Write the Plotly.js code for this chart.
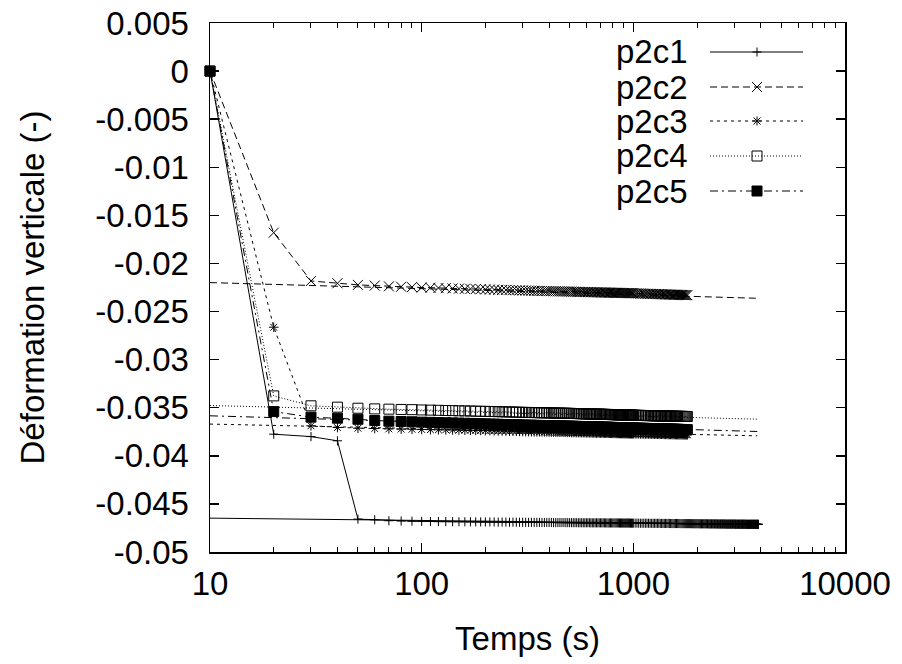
<!DOCTYPE html>
<html>
<head>
<meta charset="utf-8">
<script src="https://cdn.plot.ly/plotly-3.0.1.min.js"></script>
<style>html,body{margin:0;padding:0;background:#fff;}</style>
</head>
<body>
<div id="chart" style="width:902px;height:664px;"></div>
<script>
// ---------- data ----------
// time grid of the records p2c2..p2c5 (s)
const temps = [
  10,20,30,40,50,60,70,80,90,100,
  110,120,130,140,150,160,170,180,190,200,
  210,220,230,240,250,260,270,280,290,300,
  310,320,330,340,350,360,370,380,390,400,
  410,420,430,440,450,460,470,480,490,500,
  510,520,530,540,550,560,570,580,590,600,
  610,620,630,640,650,660,670,680,690,700,
  710,720,730,740,750,760,770,780,790,800,
  810,820,830,840,850,860,870,880,890,900,
  910,920,930,940,950,960,970,980,990,1000,
  1020,1040,1060,1080,1100,1120,1140,1160,1180,1200,
  1220,1240,1260,1280,1300,1320,1340,1360,1380,1400,
  1420,1440,1460,1480,1500,1520,1540,1560,1580,1600,
  1620,1640,1660,1680,1700,1720,1740,1760,1780,1800];
// extra times recorded only for p2c1 (s)
const tempsFin = [
  1820,1840,1860,1880,1900,1920,1940,1960,1980,2000,
  2020,2040,2060,2080,2100,2120,2140,2160,2180,2200,
  2220,2240,2260,2280,2300,2320,2340,2360,2380,2400,
  2420,2440,2460,2480,2500,2520,2540,2560,2580,2600,
  2620,2640,2660,2680,2700,2720,2740,2760,2780,2800,
  2820,2840,2860,2880,2900,2920,2940,2960,2980,3000,
  3020,3040,3060,3080,3100,3120,3140,3160,3180,3200,
  3220,3240,3260,3280,3300,3320,3340,3360,3380,3400,
  3420,3440,3460,3480,3500,3520,3540,3560,3580,3600,
  3620,3640,3660,3680,3700,3720,3740,3760,3780,3800,
  3820,3840,3860,3880,3900];

const p2c1 = [
  0,-0.03775,-0.0380,-0.03844,-0.04658,-0.04665,-0.04675,-0.04678,-0.0468,-0.04682,
  -0.04683,-0.04684,-0.04684,-0.04685,-0.04685,-0.04686,-0.04686,-0.04687,-0.04687,-0.04688,
  -0.04688,-0.04688,-0.04689,-0.04689,-0.04689,-0.0469,-0.0469,-0.0469,-0.04691,-0.04691,
  -0.04691,-0.04692,-0.04692,-0.04692,-0.04692,-0.04692,-0.04693,-0.04693,-0.04693,-0.04693,
  -0.04693,-0.04694,-0.04694,-0.04694,-0.04694,-0.04694,-0.04694,-0.04695,-0.04695,-0.04695,
  -0.04695,-0.04695,-0.04695,-0.04695,-0.04696,-0.04696,-0.04696,-0.04696,-0.04696,-0.04696,
  -0.04696,-0.04696,-0.04697,-0.04697,-0.04697,-0.04697,-0.04697,-0.04697,-0.04697,-0.04697,
  -0.04697,-0.04697,-0.04697,-0.04698,-0.04698,-0.04698,-0.04698,-0.04698,-0.04698,-0.04698,
  -0.04698,-0.04698,-0.04698,-0.04698,-0.04698,-0.04699,-0.04699,-0.04699,-0.04699,-0.04699,
  -0.04699,-0.04699,-0.04699,-0.04699,-0.04699,-0.04699,-0.047,-0.047,-0.047,-0.047,
  -0.047,-0.047,-0.047,-0.04701,-0.04701,-0.04701,-0.04701,-0.04701,-0.04701,-0.04702,
  -0.04702,-0.04702,-0.04702,-0.04702,-0.04702,-0.04702,-0.04703,-0.04703,-0.04703,-0.04703,
  -0.04703,-0.04703,-0.04703,-0.04703,-0.04704,-0.04704,-0.04704,-0.04704,-0.04704,-0.04704,
  -0.04704,-0.04704,-0.04704,-0.04705,-0.04705,-0.04705,-0.04705,-0.04705,-0.04705,-0.04705,
  -0.04705,-0.04705,-0.04705,-0.04706,-0.04706,-0.04706,-0.04706,-0.04706,-0.04706,-0.04706,
  -0.04706,-0.04706,-0.04707,-0.04707,-0.04707,-0.04707,-0.04707,-0.04707,-0.04707,-0.04707,
  -0.04707,-0.04707,-0.04708,-0.04708,-0.04708,-0.04708,-0.04708,-0.04708,-0.04708,-0.04708,
  -0.04708,-0.04708,-0.04708,-0.04709,-0.04709,-0.04709,-0.04709,-0.04709,-0.04709,-0.04709,
  -0.04709,-0.04709,-0.04709,-0.04709,-0.04709,-0.0471,-0.0471,-0.0471,-0.0471,-0.0471,
  -0.0471,-0.0471,-0.0471,-0.0471,-0.0471,-0.0471,-0.0471,-0.0471,-0.0471,-0.0471,
  -0.0471,-0.04711,-0.04711,-0.04711,-0.04711,-0.04711,-0.04711,-0.04711,-0.04711,-0.04711,
  -0.04711,-0.04711,-0.04711,-0.04711,-0.04711,-0.04711,-0.04711,-0.04711,-0.04712,-0.04712,
  -0.04712,-0.04712,-0.04712,-0.04712,-0.04712,-0.04712,-0.04712,-0.04712,-0.04712,-0.04712,
  -0.04712,-0.04712,-0.04712,-0.04712,-0.04712,-0.04712,-0.04712,-0.04712,-0.04712,-0.04712,
  -0.04712,-0.04712,-0.04712,-0.04712,-0.04712];

const p2c2 = [
  0,-0.0168,-0.02182,-0.02206,-0.02223,-0.0223,-0.02238,-0.02242,-0.02246,-0.0225,
  -0.02252,-0.02255,-0.02257,-0.0226,-0.02262,-0.02264,-0.02265,-0.02267,-0.02268,-0.0227,
  -0.02271,-0.02272,-0.02274,-0.02275,-0.02276,-0.02277,-0.02278,-0.02279,-0.0228,-0.02281,
  -0.02282,-0.02283,-0.02283,-0.02284,-0.02285,-0.02285,-0.02286,-0.02287,-0.02287,-0.02288,
  -0.02288,-0.02289,-0.02289,-0.0229,-0.0229,-0.02291,-0.02291,-0.02292,-0.02292,-0.02293,
  -0.02293,-0.02294,-0.02294,-0.02295,-0.02295,-0.02296,-0.02296,-0.02297,-0.02297,-0.02298,
  -0.02298,-0.02298,-0.02299,-0.02299,-0.02299,-0.023,-0.023,-0.023,-0.02301,-0.02301,
  -0.02302,-0.02302,-0.02302,-0.02303,-0.02303,-0.02303,-0.02304,-0.02304,-0.02304,-0.02305,
  -0.02305,-0.02305,-0.02305,-0.02306,-0.02306,-0.02306,-0.02306,-0.02307,-0.02307,-0.02307,
  -0.02307,-0.02308,-0.02308,-0.02308,-0.02308,-0.02309,-0.02309,-0.02309,-0.02309,-0.0231,
  -0.02311,-0.02311,-0.02312,-0.02313,-0.02313,-0.02314,-0.02315,-0.02315,-0.02316,-0.02316,
  -0.02317,-0.02317,-0.02318,-0.02318,-0.02319,-0.02319,-0.0232,-0.0232,-0.02321,-0.02321,
  -0.02322,-0.02322,-0.02323,-0.02323,-0.02324,-0.02324,-0.02325,-0.02325,-0.02325,-0.02326,
  -0.02326,-0.02327,-0.02327,-0.02327,-0.02328,-0.02328,-0.02329,-0.02329,-0.02329,-0.0233];

const p2c3 = [
  0,-0.02663,-0.03688,-0.03706,-0.03713,-0.03716,-0.0372,-0.03722,-0.03724,-0.03726,
  -0.03728,-0.03729,-0.0373,-0.03731,-0.03732,-0.03733,-0.03734,-0.03735,-0.03736,-0.03737,
  -0.03738,-0.03739,-0.0374,-0.03741,-0.03742,-0.03743,-0.03744,-0.03745,-0.03746,-0.03747,
  -0.03748,-0.03748,-0.03749,-0.03749,-0.0375,-0.0375,-0.0375,-0.03751,-0.03751,-0.03752,
  -0.03752,-0.03753,-0.03753,-0.03754,-0.03754,-0.03754,-0.03755,-0.03755,-0.03756,-0.03756,
  -0.03757,-0.03757,-0.03757,-0.03758,-0.03758,-0.03758,-0.03759,-0.03759,-0.03759,-0.0376,
  -0.0376,-0.0376,-0.03761,-0.03761,-0.03761,-0.03762,-0.03762,-0.03762,-0.03763,-0.03763,
  -0.03763,-0.03764,-0.03764,-0.03764,-0.03764,-0.03765,-0.03765,-0.03765,-0.03766,-0.03766,
  -0.03766,-0.03766,-0.03767,-0.03767,-0.03767,-0.03767,-0.03768,-0.03768,-0.03768,-0.03768,
  -0.03768,-0.03769,-0.03769,-0.03769,-0.03769,-0.0377,-0.0377,-0.0377,-0.0377,-0.0377,
  -0.03771,-0.03771,-0.03771,-0.03772,-0.03772,-0.03772,-0.03773,-0.03773,-0.03773,-0.03774,
  -0.03774,-0.03774,-0.03775,-0.03775,-0.03775,-0.03776,-0.03776,-0.03776,-0.03776,-0.03777,
  -0.03777,-0.03777,-0.03778,-0.03778,-0.03778,-0.03778,-0.03779,-0.03779,-0.03779,-0.03779,
  -0.0378,-0.0378,-0.0378,-0.0378,-0.0378,-0.03781,-0.03781,-0.03781,-0.03781,-0.03781];

const p2c4 = [
  0,-0.03377,-0.0348,-0.03494,-0.03505,-0.03512,-0.03515,-0.03518,-0.0352,-0.03523,
  -0.03525,-0.03527,-0.03529,-0.0353,-0.03532,-0.03533,-0.03534,-0.03536,-0.03537,-0.03538,
  -0.03539,-0.0354,-0.03541,-0.03542,-0.03543,-0.03544,-0.03545,-0.03546,-0.03547,-0.03548,
  -0.03549,-0.03549,-0.0355,-0.0355,-0.03551,-0.03552,-0.03552,-0.03553,-0.03553,-0.03554,
  -0.03554,-0.03555,-0.03555,-0.03556,-0.03556,-0.03557,-0.03557,-0.03558,-0.03558,-0.03559,
  -0.03559,-0.0356,-0.0356,-0.03561,-0.03561,-0.03562,-0.03562,-0.03563,-0.03563,-0.03564,
  -0.03564,-0.03565,-0.03565,-0.03565,-0.03566,-0.03566,-0.03567,-0.03567,-0.03567,-0.03568,
  -0.03568,-0.03569,-0.03569,-0.03569,-0.0357,-0.0357,-0.0357,-0.03571,-0.03571,-0.03572,
  -0.03572,-0.03572,-0.03573,-0.03573,-0.03573,-0.03574,-0.03574,-0.03574,-0.03575,-0.03575,
  -0.03575,-0.03575,-0.03576,-0.03576,-0.03576,-0.03577,-0.03577,-0.03577,-0.03577,-0.03578,
  -0.03578,-0.03579,-0.03579,-0.0358,-0.0358,-0.03581,-0.03581,-0.03582,-0.03582,-0.03582,
  -0.03583,-0.03583,-0.03584,-0.03584,-0.03584,-0.03585,-0.03585,-0.03585,-0.03586,-0.03586,
  -0.03586,-0.03587,-0.03587,-0.03587,-0.03588,-0.03588,-0.03588,-0.03589,-0.03589,-0.03589,
  -0.03589,-0.0359,-0.0359,-0.0359,-0.0359,-0.03591,-0.03591,-0.03591,-0.03591,-0.03591];

const p2c5 = [
  0,-0.0354,-0.03598,-0.03609,-0.0362,-0.03633,-0.0364,-0.03643,-0.03646,-0.0365,
  -0.03652,-0.03654,-0.03656,-0.03658,-0.0366,-0.03662,-0.03663,-0.03665,-0.03667,-0.03668,
  -0.0367,-0.03671,-0.03672,-0.03674,-0.03675,-0.03676,-0.03677,-0.03678,-0.03679,-0.0368,
  -0.03681,-0.03682,-0.03682,-0.03683,-0.03684,-0.03684,-0.03685,-0.03686,-0.03686,-0.03687,
  -0.03687,-0.03688,-0.03688,-0.03689,-0.0369,-0.0369,-0.03691,-0.03691,-0.03692,-0.03692,
  -0.03693,-0.03693,-0.03694,-0.03694,-0.03695,-0.03695,-0.03696,-0.03696,-0.03697,-0.03697,
  -0.03698,-0.03698,-0.03699,-0.03699,-0.03699,-0.037,-0.037,-0.03701,-0.03701,-0.03701,
  -0.03702,-0.03702,-0.03703,-0.03703,-0.03703,-0.03704,-0.03704,-0.03704,-0.03705,-0.03705,
  -0.03705,-0.03706,-0.03706,-0.03706,-0.03707,-0.03707,-0.03707,-0.03708,-0.03708,-0.03708,
  -0.03708,-0.03709,-0.03709,-0.03709,-0.0371,-0.0371,-0.0371,-0.0371,-0.03711,-0.03711,
  -0.03712,-0.03712,-0.03713,-0.03713,-0.03714,-0.03714,-0.03715,-0.03715,-0.03716,-0.03716,
  -0.03717,-0.03717,-0.03718,-0.03718,-0.03719,-0.03719,-0.03719,-0.0372,-0.0372,-0.03721,
  -0.03721,-0.03722,-0.03722,-0.03722,-0.03723,-0.03723,-0.03724,-0.03724,-0.03724,-0.03725,
  -0.03725,-0.03725,-0.03726,-0.03726,-0.03726,-0.03727,-0.03727,-0.03727,-0.03728,-0.03728];

// closing segment of each record (from the start of the time axis to the end time)
const retourTemps = [10, 3850];
const p2c1Retour = [-0.04648, -0.0471];
const p2c2Retour = [-0.02199, -0.02362];
const p2c3Retour = [-0.0367, -0.03792];
const p2c4Retour = [-0.03477, -0.03619];
const p2c5Retour = [-0.03584, -0.03747];

const seriesNames = ['p2c1','p2c2','p2c3','p2c4','p2c5'];
const xTickVals = [10, 100, 1000, 10000];
const xTickText = ['10', '100', '1000', '10000'];
const xMinorTicks = [20,30,40,50,60,70,80,90,200,300,400,500,600,700,800,900,2000,3000,4000,5000,6000,7000,8000,9000];
const yTickVals = [0.005,0,-0.005,-0.01,-0.015,-0.02,-0.025,-0.03,-0.035,-0.04,-0.045,-0.05];
const yTickText = ['0.005','0','-0.005','-0.01','-0.015','-0.02','-0.025','-0.03','-0.035','-0.04','-0.045','-0.05'];

// ---------- styles ----------
const FONT = 'Liberation Sans, Arial, Helvetica, sans-serif';
const styles = [
  {dash:'solid',           symbol:'cross-thin-open', size:6.5, legendMark:'plus'},
  {dash:'7px,4px',         symbol:'x-thin-open',     size:10,  legendMark:'x'},
  {dash:'3px,4px',         symbol:'asterisk-open',   size:8,   legendMark:'asterisk'},
  {dash:'1px,2px',         symbol:'square-open',     size:10,  legendMark:'square-open'},
  {dash:'8px,4px,2px,4px', symbol:'square',          size:10,  legendMark:'square'}
];
const xs = [temps.concat(tempsFin), temps, temps, temps, temps];
const ys = [p2c1, p2c2, p2c3, p2c4, p2c5];
const retours = [p2c1Retour, p2c2Retour, p2c3Retour, p2c4Retour, p2c5Retour];

const traces = [];
for (let i = 0; i < 5; i++) {
  const st = styles[i];
  traces.push({
    type:'scatter', mode:'lines+markers', name: seriesNames[i],
    x: xs[i], y: ys[i], cliponaxis:false,
    line:{color:'black', width:1, dash:st.dash},
    marker:{symbol:st.symbol, size:st.size, color:'black', line:{color:'black', width:1}},
    showlegend:false
  });
  traces.push({
    type:'scatter', mode:'lines', name: seriesNames[i],
    x: retourTemps, y: retours[i],
    line:{color:'black', width:1, dash:st.dash},
    showlegend:false, hoverinfo:'skip'
  });
}

// ---------- gnuplot-style key (label on the left, sample on the right) ----------
const plotL = 210, plotR = 845, plotT = 23, plotB = 552;
const px2x = p => (p - plotL) / (plotR - plotL);
const px2y = p => (plotB - p) / (plotB - plotT);
const legendRows = [52, 87, 121, 156, 191];
const shapes = [];
const annotations = [];
for (let i = 0; i < 5; i++) {
  const yr = px2y(legendRows[i]);
  annotations.push({xref:'paper', yref:'paper', x:px2x(690), y:yr, xanchor:'right', yanchor:'middle',
    text:seriesNames[i], showarrow:false, font:{family:FONT, size:33, color:'black'}});
  shapes.push({type:'line', xref:'paper', yref:'paper', x0:px2x(710), x1:px2x(803), y0:yr, y1:yr,
    line:{color:'black', width:1, dash:styles[i].dash}});
  const ax = px2x(757);
  const mk = (x0,y0,x1,y1,type,fill) => ({type:type||'line', xref:'paper', yref:'paper', xsizemode:'pixel', ysizemode:'pixel',
    xanchor:ax, yanchor:yr, x0:x0, x1:x1, y0:y0, y1:y1, line:{color:'black', width:1}, fillcolor: fill || 'rgba(0,0,0,0)'});
  const m = styles[i].legendMark;
  if (m === 'plus' || m === 'asterisk') { shapes.push(mk(-4.5,0,4.5,0)); shapes.push(mk(0,-4.5,0,4.5)); }
  if (m === 'x') { shapes.push(mk(-5,-5,5,5)); shapes.push(mk(-5,5,5,-5)); }
  if (m === 'asterisk') { shapes.push(mk(-3.5,-3.5,3.5,3.5)); shapes.push(mk(-3.5,3.5,3.5,-3.5)); }
  if (m === 'square-open') shapes.push(mk(-5,-5,5,5,'rect','white'));
  if (m === 'square') shapes.push(mk(-5,-5,5,5,'rect','black'));
}
shapes.push({type:'line', xref:'paper', yref:'paper', x0:px2x(752), x1:px2x(762), y0:px2y(156), y1:px2y(156), line:{color:'black', width:1, dash:'1px,2px'}});

const layout = {
  width:902, height:664,
  margin:{l:plotL, r:902-plotR, t:plotT, b:664-plotB, pad:0},
  paper_bgcolor:'white', plot_bgcolor:'white',
  showlegend:false,
  font:{family:FONT, size:33, color:'black'},
  xaxis:{
    type:'log', range:[1,4], tickmode:'array', tickvals:xTickVals, ticktext:xTickText,
    ticks:'inside', ticklen:9, tickwidth:1.5, tickcolor:'black',
    showline:true, linecolor:'black', linewidth:1.5, mirror:'allticks',
    showgrid:false, zeroline:false, ticklabelstandoff:2,
    minor:{tickmode:'array', tickvals:xMinorTicks, ticks:'inside', ticklen:5, tickwidth:1, tickcolor:'black', showgrid:false},
    tickfont:{family:FONT, size:33, color:'black'},
    title:{text:'Temps (s)', font:{family:FONT, size:33, color:'black'}, standoff:26}
  },
  yaxis:{
    range:[-0.05,0.005], tickmode:'array', tickvals:yTickVals, ticktext:yTickText,
    ticks:'inside', ticklen:9, tickwidth:1.5, tickcolor:'black',
    showline:true, linecolor:'black', linewidth:1.5, mirror:'allticks',
    showgrid:false, zeroline:false, ticklabelstandoff:13,
    tickfont:{family:FONT, size:33, color:'black'},
    title:{text:'Déformation verticale (-)', font:{family:FONT, size:33, color:'black'}, standoff:41}
  },
  shapes:shapes,
  annotations:annotations
};

Plotly.newPlot('chart', traces, layout, {staticPlot:true, displayModeBar:false});
</script>
</body>
</html>
